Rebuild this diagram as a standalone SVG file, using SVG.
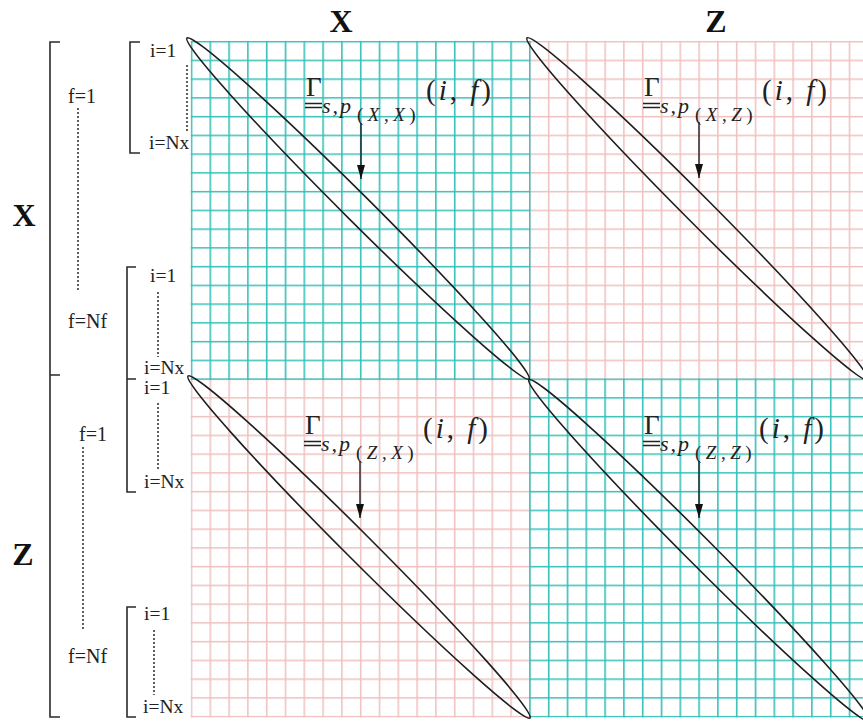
<svg xmlns="http://www.w3.org/2000/svg" width="863" height="721" viewBox="0 0 863 721">
<style>
.br{fill:none;stroke:#2a2a2a;stroke-width:1.6}
.dot{fill:none;stroke:#2a2a2a;stroke-width:1.5;stroke-dasharray:2 2}
.sm{font-family:"Liberation Serif",serif;font-size:19.5px;fill:#222}
.fl{font-family:"Liberation Serif",serif;font-size:20px;fill:#222}
.hd{font-family:"Liberation Serif",serif;font-size:32px;font-weight:bold;fill:#111}
.el{fill:none;stroke:#1e1e1e;stroke-width:1.6}
.gam{font-family:"Liberation Serif",serif;font-size:27px;fill:#222}
.ul{fill:none;stroke:#222;stroke-width:1.3}
.sp{font-family:"Liberation Serif",serif;font-size:22px;font-style:italic;fill:#222;letter-spacing:2px}
.sub{font-family:"Liberation Serif",serif;font-size:19px;fill:#222;letter-spacing:4.5px}
.if{font-family:"Liberation Serif",serif;font-size:29px;fill:#222;letter-spacing:3px}
.it{font-style:italic}
.ar{stroke:#111;stroke-width:1.3}
</style>
<defs>
<pattern id="gt" patternUnits="userSpaceOnUse" x="190.7" y="40.9" width="18.8" height="18.75"><path d="M0.8 0V18.75M0 0.8H18.8" stroke="#36c0ba" stroke-width="1.6"/></pattern>
<pattern id="gp" patternUnits="userSpaceOnUse" x="190.7" y="40.9" width="18.8" height="18.75"><path d="M0.8 0V18.75M0 0.8H18.8" stroke="#efc0c0" stroke-width="1.5"/></pattern>
<marker id="ah" markerUnits="userSpaceOnUse" markerWidth="16" markerHeight="10" refX="14" refY="4" orient="auto"><path d="M0 0L14 4L0 8z" fill="#111"/></marker>
</defs>
<rect width="863" height="721" fill="#fff"/>
<g id="grid">
<rect x="529.1" y="40.9" width="340" height="339.1" fill="url(#gp)"/>
<rect x="190.7" y="378.4" width="340" height="339.1" fill="url(#gp)"/>
<rect x="190.7" y="40.9" width="340" height="339.1" fill="url(#gt)"/>
<rect x="529.1" y="378.4" width="340" height="339.1" fill="url(#gt)"/>
</g>
<g id="headers">
<text class="hd" x="341" y="32" text-anchor="middle">X</text>
<text class="hd" x="716" y="32" text-anchor="middle">Z</text>
<text class="hd" x="24" y="226" text-anchor="middle">X</text>
<text class="hd" x="23" y="565" text-anchor="middle">Z</text>
</g>
<g id="brackets">
<path class="br" d="M60 42H50V717H60M50 375H60"/>
<path class="br" d="M140 42H130V153H140"/>
<path class="br" d="M136 267H127V492H136M127 379H136"/>
<path class="br" d="M136 607H127V717H136"/>
</g>
<g id="index-labels">
<text class="sm" x="150" y="57">i=1</text>
<text class="sm" x="149" y="149">i=Nx</text>
<path class="dot" d="M187 65V133"/>
<text class="fl" x="68" y="103">f=1</text>
<path class="dot" d="M78 108V292"/>
<text class="fl" x="68" y="328">f=Nf</text>
<text class="sm" x="150" y="282">i=1</text>
<path class="dot" d="M158 292V357"/>
<text class="sm" x="144" y="374">i=Nx</text>
<text class="sm" x="144" y="394">i=1</text>
<path class="dot" d="M158 403V470"/>
<text class="sm" x="144" y="488">i=Nx</text>
<text class="fl" x="79" y="441">f=1</text>
<path class="dot" d="M83 447V630"/>
<text class="fl" x="68" y="663">f=Nf</text>
<text class="sm" x="144" y="620">i=1</text>
<path class="dot" d="M154 630V695"/>
<text class="sm" x="143" y="713">i=Nx</text>
</g>
<g id="ellipses">
<ellipse class="el" cx="358" cy="208.5" rx="241.5" ry="13.5" transform="rotate(44.9 358 208.5)"/>
<ellipse class="el" cx="697.5" cy="209" rx="241.5" ry="13.5" transform="rotate(45.1 697.5 209)"/>
<ellipse class="el" cx="359" cy="547" rx="241.8" ry="13.5" transform="rotate(45 359 547)"/>
<ellipse class="el" cx="699" cy="550.5" rx="241" ry="13.5" transform="rotate(45.1 699 550.5)"/>
</g>
<g id="label-XX">
<text class="gam" x="306" y="96">Γ</text>
<path class="ul" d="M305 103.5H322M305 107.5H322"/>
<text class="sp" x="322" y="113">s,p</text>
<text class="sub" x="357" y="121">(<tspan class="it">X</tspan>,<tspan class="it">X</tspan>)</text>
<text class="if" x="426" y="100">(<tspan class="it">i</tspan>, <tspan class="it">f</tspan>)</text>
</g>
<g id="label-XZ">
<text class="gam" x="644" y="96">Γ</text>
<path class="ul" d="M643 103.5H660M643 107.5H660"/>
<text class="sp" x="660" y="113">s,p</text>
<text class="sub" x="695" y="121">(<tspan class="it">X</tspan>,<tspan class="it">Z</tspan>)</text>
<text class="if" x="762" y="100">(<tspan class="it">i</tspan>, <tspan class="it">f</tspan>)</text>
</g>
<g id="label-ZX">
<text class="gam" x="305" y="434">Γ</text>
<path class="ul" d="M304 441.5H321M304 445.5H321"/>
<text class="sp" x="321" y="451">s,p</text>
<text class="sub" x="356" y="459">(<tspan class="it">Z</tspan>,<tspan class="it">X</tspan>)</text>
<text class="if" x="423" y="438">(<tspan class="it">i</tspan>, <tspan class="it">f</tspan>)</text>
</g>
<g id="label-ZZ">
<text class="gam" x="644" y="434">Γ</text>
<path class="ul" d="M643 441.5H660M643 445.5H660"/>
<text class="sp" x="660" y="451">s,p</text>
<text class="sub" x="695" y="459">(<tspan class="it">Z</tspan>,<tspan class="it">Z</tspan>)</text>
<text class="if" x="759" y="438">(<tspan class="it">i</tspan>, <tspan class="it">f</tspan>)</text>
</g>
<g id="connectors">
<line class="ar" x1="361" y1="123" x2="361" y2="179" marker-end="url(#ah)"/>
<line class="ar" x1="699" y1="122" x2="699" y2="178" marker-end="url(#ah)"/>
<line class="ar" x1="360" y1="461" x2="360" y2="518" marker-end="url(#ah)"/>
<line class="ar" x1="699" y1="461" x2="699" y2="518" marker-end="url(#ah)"/>
</g>
</svg>
